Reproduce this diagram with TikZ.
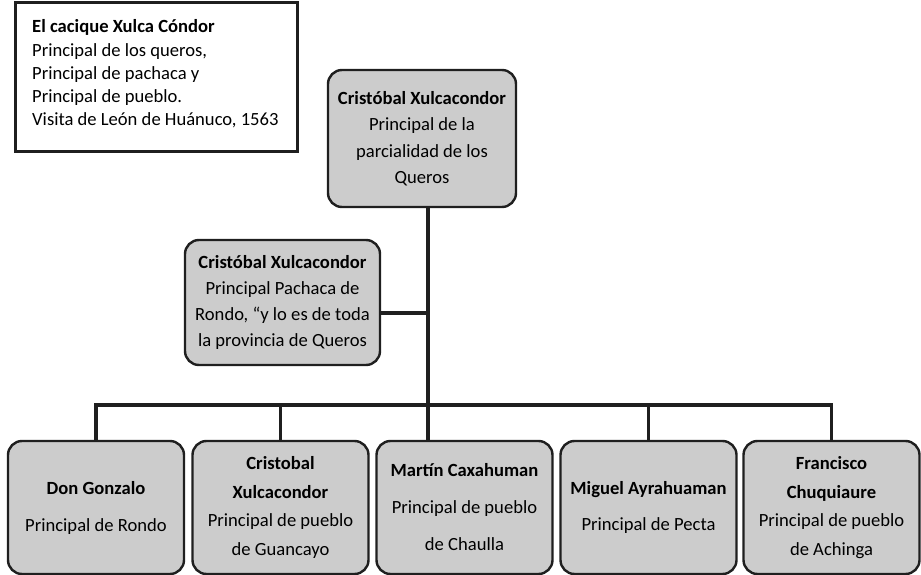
\documentclass[tikz,border=0pt]{standalone}
\usepackage{fontspec}
\setmainfont{Carlito}
\begin{document}
\begin{tikzpicture}[x=1pt,y=-1pt,
  box/.style={draw=black!88, line width=2.4pt, rounded corners=14pt, fill=black!20, align=center, inner sep=0pt},
  bottombox/.style={box, minimum width=176pt, minimum height=133pt, font=\fontsize{18.6}{28.5}\selectfont},
  conn/.style={draw=black!88, line width=3.8pt, line join=miter},
  txt/.style={font=\fontsize{18.6}{23.3}\selectfont}]
\useasboundingbox (0,0) rectangle (921,575);
% info box
\node[draw=black!88, line width=3pt, minimum width=282pt, minimum height=149pt, inner sep=0pt] (info) at (156,77.5) {};
\node[txt, anchor=north west, align=left, inner sep=0pt] (infotext) at (32,19.5)
  {\textbf{El cacique Xulca Cóndor}\\Principal de los queros,\\Principal de pachaca y\\Principal de pueblo.\\Visita de León de Huánuco, 1563};
% top
\node[box, minimum width=188pt, minimum height=137pt, font=\fontsize{18.6}{26.5}\selectfont] (top) at (422,138.5)
  {\textbf{Cristóbal Xulcacondor}\\Principal de la\\parcialidad de los\\Queros};
% middle
\node[box, minimum width=195pt, minimum height=125pt, font=\fontsize{18.6}{25.7}\selectfont] (mid) at (282.5,302.5)
  {\textbf{Cristóbal Xulcacondor}\\Principal Pachaca de\\Rondo, “y lo es de toda\\la provincia de Queros};
% bottom row
\node[bottombox] (b1) at (96,507.5) {\textbf{Don Gonzalo}\\[8.5pt]Principal de Rondo};
\node[bottombox] (b2) at (280.5,507.5) {\textbf{Cristobal}\\\textbf{Xulcacondor}\\Principal de pueblo\\de Guancayo};
\node[bottombox] (b3) at (464.5,507.5) {\textbf{Martín Caxahuman}\\[8.5pt]Principal de pueblo\\[8.5pt]de Chaulla};
\node[bottombox] (b4) at (648.5,507.5) {\textbf{Miguel Ayrahuaman}\\[7.5pt]Principal de Pecta};
\node[bottombox] (b5) at (831.5,507.5) {\textbf{Francisco}\\\textbf{Chuquiaure}\\Principal de pueblo\\de Achinga};
% connectors
\coordinate (tk) at (428,207);
\coordinate (bar) at (428,405);
\draw[conn] (tk) -- (tk |- b3.north);
\draw[conn] ([yshift=-10.5pt]mid.east) coordinate (mj) -- (mj -| tk);
\draw[conn] (b1.north) -- (b1.north |- bar) -- (b5.north |- bar) -- (b5.north);
\draw[conn] (b2.north |- bar) -- (b2.north);
\draw[conn] (b4.north |- bar) -- (b4.north);
\end{tikzpicture}
\end{document}
